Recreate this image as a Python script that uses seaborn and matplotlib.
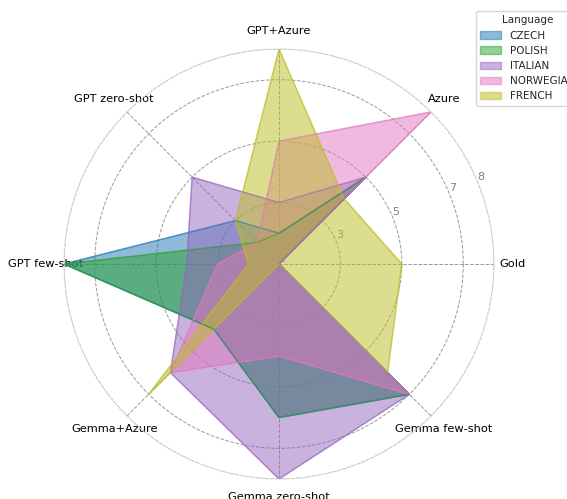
import numpy as np
import matplotlib
matplotlib.use("Agg")
import matplotlib.pyplot as plt
import seaborn as sns

categories = ["Gold", "Azure", "GPT+Azure", "GPT zero-shot", "GPT few-shot",
              "Gemma+Azure", "Gemma zero-shot", "Gemma few-shot"]
languages = ["CZECH", "POLISH", "ITALIAN", "NORWEGIAN", "FRENCH"]
czech = [1, 5, 2, 3, 8, 4, 6, 7]
polish = [1, 5, 2, 2, 8, 4, 6, 7]
italian = [1, 5, 3, 5, 4, 6, 8, 7]
norwegian = [1, 8, 5, 2, 3, 6, 4, 7]
french = [5, 4, 8, 3, 2, 7, 1, 6]
series = [czech, polish, italian, norwegian, french]
rticks = [1, 3, 5, 7, 8]

sns.set_theme(style="white")
plt.rcParams['font.family'] = ['DejaVu Sans']
tab = sns.color_palette("tab10")
colors = [tab[0], tab[2], tab[4], tab[6], tab[8]]

fig = plt.figure(figsize=(5.67, 4.99), dpi=100)
ax = fig.add_axes([64/567, 20/499, 430/567, 430/499], projection="polar")

n = len(categories)
angles = np.linspace(0, 2*np.pi, n, endpoint=False).tolist()
angles_c = angles + angles[:1]

for name, vals, c in zip(languages, series, colors):
    v = list(vals) + [vals[0]]
    ax.fill(angles_c, v, color=c, alpha=0.5, label=name)
    ax.plot(angles_c, v, color=c, alpha=0.5, linewidth=1)

ax.set_ylim(1, 8)
ax.set_yticks(rticks)
ax.set_yticklabels([str(t) for t in rticks], color="gray", fontsize=8)
ax.set_rlabel_position(22.5)
ax.set_xticks(angles)
ax.set_xticklabels(categories, fontsize=8.2, color="black")
ax.tick_params(axis="x", pad=0)
ax.grid(True, color="gray", linestyle="--", linewidth=0.7, alpha=0.8)
ax.spines["polar"].set_color("lightgray")
ax.spines["polar"].set_linestyle(":")
ax.spines["polar"].set_linewidth(0.8)
for lbl in ax.get_yticklabels():
    lbl.set_zorder(10)

leg = ax.legend(title="Language", loc="upper left", bbox_to_anchor=(471/567, 1 - 6/499),
                bbox_transform=fig.transFigure, fontsize=7.5, title_fontsize=7.5,
                frameon=True)

fig.savefig("out.png", dpi=100)
